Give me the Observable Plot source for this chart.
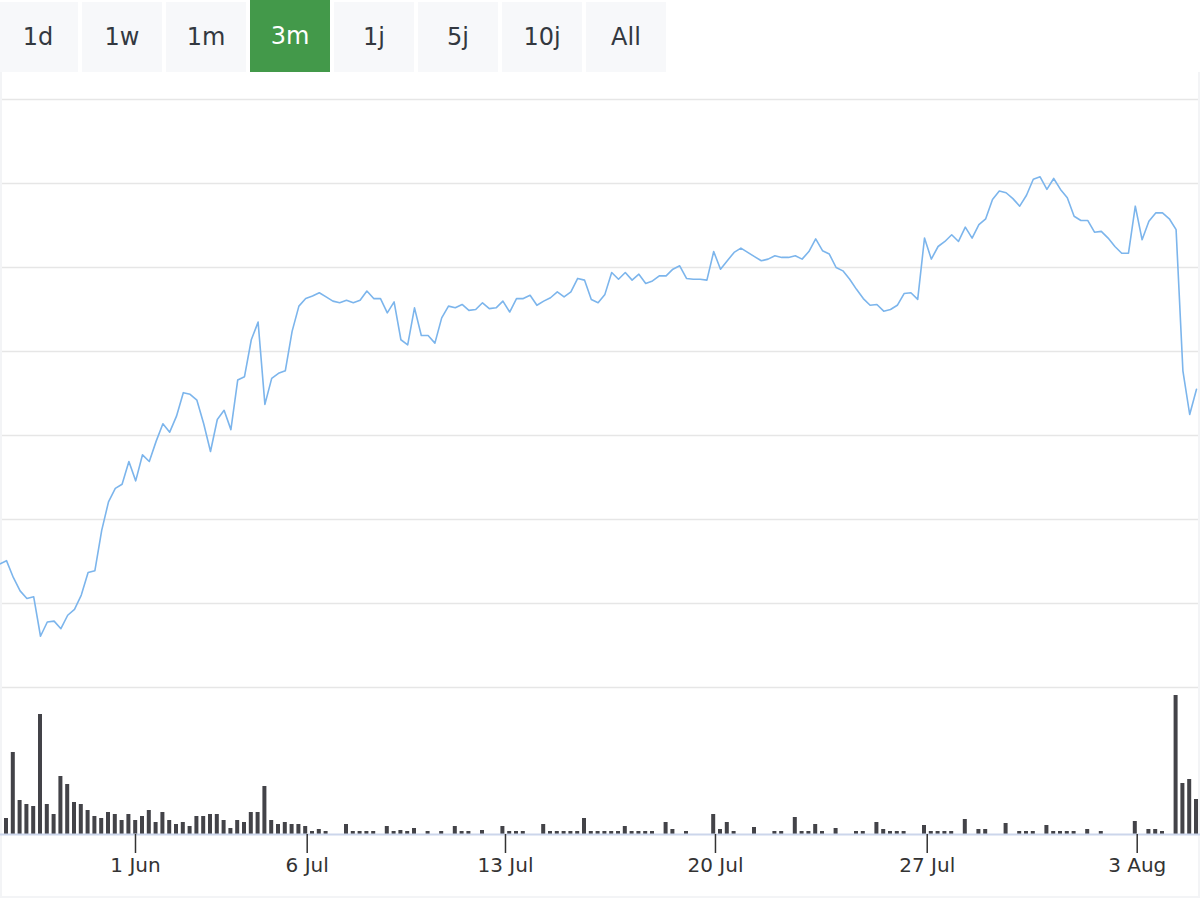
<!DOCTYPE html>
<html>
<head>
<meta charset="utf-8">
<script src="https://cdn.jsdelivr.net/npm/d3@7"></script>
<script src="https://cdn.jsdelivr.net/npm/@observablehq/plot@0.6"></script>
<style>
  html, body { margin: 0; padding: 0; background: #ffffff; }
  body { width: 1200px; height: 900px; position: relative; overflow: hidden; font-family: "DejaVu Sans", sans-serif; }
  .btn { position: absolute; width: 80px; top: 2px; height: 70px; background: #f7f8fa; color: #333840;
         font-size: 24px; display: flex; align-items: center; justify-content: center; }
  .btn.active { top: 0; height: 72px; background: #43994a; color: #ffffff; }
  #frame { position: absolute; left: 0; top: 72px; width: 1200px; height: 826px; box-sizing: border-box;
           border: 2px solid #f3f4f6; border-top: none; }
  #price { position: absolute; left: 0; top: 72px; }
  #volume { position: absolute; left: 0; top: 688px; }
</style>
</head>
<body>
<div id="frame"></div>
<div id="buttons"></div>
<div id="price"></div>
<div id="volume"></div>
<script>
// ---- data ----
const rangeLabels = ["1d", "1w", "1m", "3m", "1j", "5j", "10j", "All"];
const activeRange = "3m";

// last price before the visible window (its segment is cut by the left edge)
const priorPrice = 14.7;

const price = [
  15.1, 13.1, 11.5, 10.6, 10.8, 6.1, 7.8, 7.9, 7.0, 8.6,
  9.3, 11.0, 13.7, 13.9, 18.7, 22.1, 23.7, 24.2, 26.9, 24.6,
  27.7, 26.9, 29.3, 31.4, 30.4, 32.3, 35.1, 34.9, 34.2, 31.4,
  28.1, 31.9, 33.0, 30.7, 36.6, 37.0, 41.4, 43.5, 33.7, 36.8,
  37.4, 37.7, 42.4, 45.4, 46.3, 46.6, 47.0, 46.5, 46.0, 45.8,
  46.1, 45.8, 46.1, 47.2, 46.3, 46.3, 44.6, 45.9, 41.4, 40.8,
  45.2, 41.9, 41.9, 41.0, 44.0, 45.4, 45.2, 45.6, 44.9, 45.0,
  45.8, 45.1, 45.2, 46.0, 44.7, 46.3, 46.3, 46.7, 45.5, 46.0,
  46.4, 47.1, 46.5, 47.1, 48.7, 48.5, 46.2, 45.8, 46.8, 49.4,
  48.6, 49.4, 48.5, 49.2, 48.1, 48.4, 49.0, 49.0, 49.8, 50.2,
  48.7, 48.6, 48.6, 48.5, 51.9, 49.8, 50.8, 51.8, 52.3, 51.8,
  51.3, 50.8, 51.0, 51.4, 51.2, 51.2, 51.4, 51.0, 51.9, 53.4,
  52.0, 51.6, 50.0, 49.6, 48.6, 47.4, 46.3, 45.5, 45.6, 44.8,
  45.0, 45.5, 46.9, 47.0, 46.2, 53.5, 51.0, 52.5, 53.1, 53.9,
  53.1, 54.8, 53.5, 55.1, 55.8, 58.1, 59.1, 58.9, 58.2, 57.3,
  58.6, 60.5, 60.8, 59.3, 60.6, 59.3, 58.3, 56.1, 55.6, 55.6,
  54.2, 54.3, 53.5, 52.5, 51.7, 51.7, 57.3, 53.3, 55.5, 56.5,
  56.5, 55.8, 54.5, 37.7, 32.5, 35.5
];

const volume = [
  16, 82, 34, 30, 28, 120, 30, 20, 58, 50,
  32, 30, 24, 18, 16, 22, 20, 14, 20, 14,
  18, 24, 12, 22, 14, 10, 12, 8, 18, 18,
  20, 20, 14, 6, 14, 12, 22, 22, 48, 14,
  10, 12, 10, 10, 8, 3, 5, 3, 0, 0,
  10, 3, 3, 3, 3, 0, 8, 3, 4, 3,
  6, 0, 3, 0, 3, 0, 8, 3, 3, 0,
  4, 0, 0, 8, 3, 3, 3, 0, 0, 10,
  3, 3, 3, 3, 3, 16, 3, 3, 3, 3,
  3, 8, 3, 3, 3, 3, 0, 12, 5, 0,
  3, 0, 0, 0, 20, 5, 12, 3, 0, 0,
  7, 0, 0, 3, 3, 0, 17, 3, 3, 10,
  3, 0, 6, 0, 0, 3, 3, 0, 12, 5,
  3, 3, 3, 0, 0, 9, 3, 3, 3, 3,
  0, 15, 0, 5, 5, 0, 0, 11, 0, 3,
  3, 3, 0, 9, 3, 3, 3, 3, 0, 5,
  0, 3, 0, 0, 0, 0, 13, 0, 5, 5,
  3, 0, 139, 51, 55, 35
];

const tickPositions = [18.97, 44.22, 73.38, 104.26, 135.4, 166.28];
const tickLabels = ["1 Jun", "6 Jul", "13 Jul", "20 Jul", "27 Jul", "3 Aug"];
const priceGrid = [0, 10, 20, 30, 40, 50, 60, 70];

// ---- buttons ----
const btnBox = document.getElementById("buttons");
rangeLabels.forEach((lab, k) => {
  const b = document.createElement("div");
  b.className = "btn" + (lab === activeRange ? " active" : "");
  b.style.left = (-2 + 84 * k) + "px";
  b.textContent = lab;
  btnBox.appendChild(b);
});

// ---- tables ----
const priceData = [{i: -1, p: priorPrice}, ...price.map((p, i) => ({i, p}))];
const volData = volume.map((v, i) => ({i, v}));
const labelMap = new Map(tickPositions.map((t, k) => [t, tickLabels[k]]));
const xDomain = [0, price.length - 1];

// ---- price chart ----
const priceChart = Plot.plot({
  width: 1200, height: 616,
  marginTop: 27, marginBottom: 1, marginLeft: 6, marginRight: 4,
  style: {background: "transparent", fontFamily: "DejaVu Sans", overflow: "visible"},
  x: {domain: xDomain, axis: null},
  y: {domain: [0, 70], axis: null},
  marks: [
    Plot.ruleY(priceGrid, {stroke: "#e6e6e6", strokeWidth: 1.5, insetLeft: -4, insetRight: -2}),
    Plot.line(priceData, {x: "i", y: "p", stroke: "#7cb5ec", strokeWidth: 1.6, curve: "linear"})
  ]
});
document.getElementById("price").appendChild(priceChart);

// ---- volume chart ----
const volChart = Plot.plot({
  width: 1200, height: 210,
  marginTop: 0, marginBottom: 64, marginLeft: 6, marginRight: 4,
  style: {background: "transparent", fontFamily: "DejaVu Sans", fontSize: "20px", color: "#333333"},
  x: {domain: xDomain, axis: null},
  y: {domain: [0, 146], axis: null},
  marks: [
    Plot.rectY(volData, {x1: d => d.i - 0.294, x2: d => d.i + 0.294, y: "v", fill: "#434348"}),
    Plot.ruleY([0], {stroke: "#ccd6eb", strokeWidth: 2, insetLeft: -6, insetRight: -4}),
    Plot.axisX({
      ticks: tickPositions,
      tickFormat: d => labelMap.get(d),
      tickSize: 19, tickPadding: 4,
      stroke: "#333333", strokeWidth: 1.5, fill: "#333333",
      fontSize: 20
    })
  ]
});
document.getElementById("volume").appendChild(volChart);
</script>
</body>
</html>
